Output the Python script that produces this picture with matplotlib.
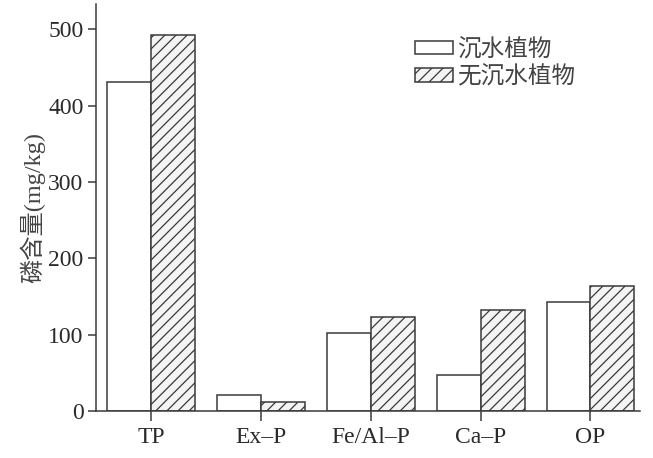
import matplotlib
matplotlib.use("Agg")
import matplotlib.pyplot as plt
import numpy as np

categories = ["TP", "Ex-P", "Fe/Al-P", "Ca-P", "OP"]
with_plants = [431, 21, 102, 47, 143]
without_plants = [492, 12, 123, 132, 164]
series_labels = ["沉水植物", "无沉水植物"]
yticks = [0, 100, 200, 300, 400, 500]

fam = ["Liberation Serif", "Noto Sans CJK SC"]
plt.rcParams["font.family"] = fam
plt.rcParams["hatch.color"] = "#9a9a9a"
plt.rcParams["hatch.linewidth"] = 0.9

fig = plt.figure(figsize=(6.53, 4.58), dpi=100)
ax = fig.add_axes([0.147, 0.103, 0.833, 0.888])

x = np.arange(len(categories))
w = 0.4
ec = "#3a3a3a"
ax.bar(x - w / 2, with_plants, w, facecolor="white", edgecolor=ec, linewidth=1.1, label=series_labels[0])
ax.bar(x + w / 2, without_plants, w, facecolor="#f4f4f4", edgecolor=ec, linewidth=1.1, hatch="///", label=series_labels[1])

ax.set_xlim(-0.5, 4.45)
ax.set_ylim(0, 533)
ax.set_xticks(x)
ax.set_xticklabels([c.replace("-", "\u2013") for c in categories], fontsize=17, color="#2a2a2a")
ax.set_yticks(yticks)
ax.set_yticklabels([str(v) for v in yticks], fontsize=17, color="#2a2a2a")
ax.set_ylabel("磷含量(mg/kg)", fontsize=17.5, color="#444444", labelpad=2)

for s in ["top", "right"]:
    ax.spines[s].set_visible(False)
for s in ["left", "bottom"]:
    ax.spines[s].set_color(ec)
    ax.spines[s].set_linewidth(1.1)
ax.tick_params(axis="y", direction="out", length=6, width=1.1, color=ec, pad=3)
ax.tick_params(axis="x", direction="out", length=7, width=1.1, color=ec, pad=5)

leg = ax.legend(loc="upper left", bbox_to_anchor=(0.586, 0.915), frameon=False,
                handlelength=1.6, handleheight=0.5, handletextpad=0.2,
                labelspacing=0.2, borderpad=0, borderaxespad=0,
                prop={"family": fam, "size": 17})
for t in leg.get_texts():
    t.set_color("#444444")

fig.savefig("out.png", dpi=100)
